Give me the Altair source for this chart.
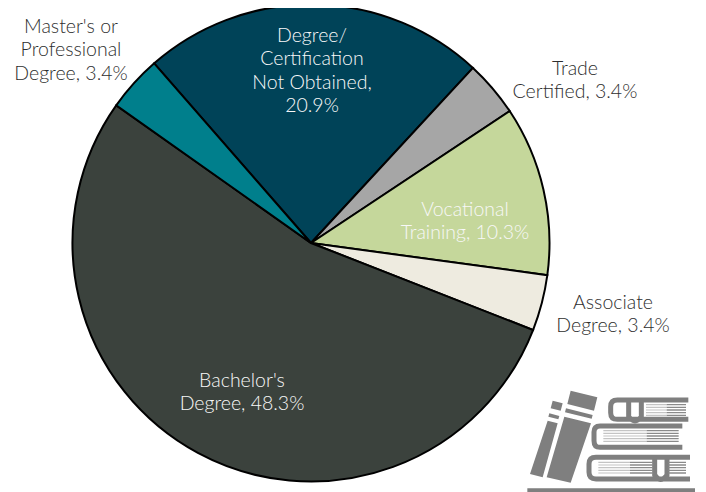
import altair as alt
import pandas as pd

categories = ["Degree/Certification Not Obtained", "Trade Certified", "Vocational Training",
              "Associate Degree", "Bachelor's Degree", "Master's or Professional Degree"]
values = [20.9, 3.4, 10.3, 3.4, 48.3, 3.4]
colors = ["#004358", "#A6A6A6", "#C5D79B", "#EEEBE0", "#3B423D", "#007F8C"]
labels = ["Degree/\nCertification\nNot Obtained,\n20.9%", "Trade\nCertified, 3.4%",
          "Vocational\nTraining, 10.3%", "Associate\nDegree, 3.4%",
          "Bachelor's\nDegree, 48.3%", "Master's or\nProfessional\nDegree, 3.4%"]
label_x = [312, 575, 465, 613, 242, 71]
label_y = [36, 69, 210, 303, 381, 27]
label_colors = ["#F8F8F8", "#2E2E2E", "#F8F8F8", "#2E2E2E", "#F8F8F8", "#2E2E2E"]

OFF = 8
FONT = "Lato"
FS = 19.5
CX, CY, R = 311 - OFF, 243 - OFF, 238.5
START = -0.7175
TAU = 6.283185307

df = pd.DataFrame({"cat": categories, "val": values, "ord": range(6)})

pie = alt.Chart(df).mark_arc(stroke="black", strokeWidth=2, outerRadius=R).encode(
    theta=alt.Theta("val:Q", stack=True, scale=alt.Scale(range=[START, START + TAU])),
    order=alt.Order("ord:Q"),
    color=alt.Color("cat:N", scale=alt.Scale(domain=categories, range=colors), legend=None),
    x=alt.value(CX), y=alt.value(CY),
)

layers = [pie]
for t, x, y, c in zip(labels, label_x, label_y, label_colors):
    layers.append(
        alt.Chart(pd.DataFrame({"t": [t]})).mark_text(
            lineBreak="\n", font=FONT, fontSize=FS, fontWeight=300, lineHeight=23.4, color=c, align="center", baseline="middle"
        ).encode(text="t:N", x=alt.value(x - OFF), y=alt.value(y - OFF))
    )

# Books icon, path coordinates are 3x pixels relative to (520, 380)
ICON = "#7F7F7F"
fill_path = (
    "M22 325H525V340H22Z "
    "M152 32L232 52L222 92L142 72Z M138 85L218 105L215 116L135 97Z M133 110L213 130L152 308L80 292Z "
    "M98 62L128 70L122 92L92 85Z M88 100L118 108L115 118L85 110Z M83 122L113 130L68 292L30 282Z"
)
stroke_path = (
    "M505 60H292Q272 60 272 80V98Q272 118 292 118H505 "
    "M487 138H240Q222 138 222 156V182Q222 202 240 202H487 "
    "M510 232H228Q207 232 207 252V277Q207 297 228 297H510 "
    "M326 62V110Q345 135 364 110V62 "
    "M404 235V285Q422 312 441 285V235"
)
stripe_light = (
    "M378 74H440M378 82H440M378 90H440M378 98H440M378 106H440 "
    "M250 152H380M250 160H380M250 168H380M250 176H380M250 184H380 "
    "M235 247H330M235 255H330M235 263H330M235 271H330M235 279H330"
)
stripe_dark = (
    "M440 74H498M440 82H498M440 90H498M440 98H498M440 106H498 "
    "M380 152H476M380 160H476M380 168H476M380 176H476M380 184H476 "
    "M330 247H400M330 255H400M330 263H400M330 271H400M330 279H400 "
    "M445 247H498M445 255H498M445 263H498M445 271H498M445 279H498"
)
pt = pd.DataFrame({"a": [0]})
ix, iy = alt.value(520 - OFF), alt.value(380 - OFF)
SZ = 4 / 9
layers.append(alt.Chart(pt).mark_point(shape=fill_path, filled=True, size=SZ, color=ICON, opacity=1).encode(x=ix, y=iy))
layers.append(alt.Chart(pt).mark_point(shape=stroke_path, filled=False, size=SZ, color=ICON, opacity=1, strokeWidth=5).encode(x=ix, y=iy))
layers.append(alt.Chart(pt).mark_point(shape=stripe_light, filled=False, size=SZ, color="#C4C4C4", opacity=1, strokeWidth=1.2).encode(x=ix, y=iy))
layers.append(alt.Chart(pt).mark_point(shape=stripe_dark, filled=False, size=SZ, color="#8A8A8A", opacity=1, strokeWidth=1.4).encode(x=ix, y=iy))

chart = alt.layer(*layers).properties(width=690, height=484, padding=0, autosize=alt.AutoSizeParams(type="none")).configure_view(stroke=None)
chart.save("out.html", embed_options={"renderer": "svg", "actions": False})
